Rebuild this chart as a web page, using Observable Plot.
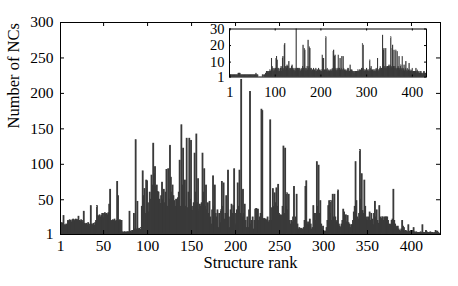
<!DOCTYPE html>
<html>
<head>
<meta charset="utf-8">
<script src="https://cdn.jsdelivr.net/npm/d3@7"></script>
<script src="https://cdn.jsdelivr.net/npm/@observablehq/plot@0.6"></script>
<style>
  html, body { margin: 0; padding: 0; background: #fff; }
  #chart { position: relative; width: 458px; height: 286px; overflow: hidden; }
  #inset { position: absolute; left: 200px; top: 20px; }
  svg { overflow: visible; }
</style>
</head>
<body>
<div id="chart"><div id="main"></div><div id="inset"></div></div>
<script>
// Number of NCs per structure (main panel), structure rank 1..432
const mainCounts = [
  18,15,17,16,27,14,13,15,14,20,
  19,21,20,18,21,22,20,21,22,21,
  21,26,20,19,21,20,17,33,16,15,
  16,14,17,15,12,41,15,14,16,13,
  17,20,41,27,26,28,25,27,30,24,
  30,31,29,30,28,31,43,64,20,19,
  21,20,22,19,20,75,55,20,21,20,
  20,4,3,4,4,3,4,4,4,33,
  5,4,6,5,30,8,134,8,47,8,
  9,7,10,40,90,55,65,30,77,76,
  45,32,60,50,84,70,129,86,96,68,
  70,61,60,50,44,55,74,50,64,45,
  60,92,40,93,50,126,81,60,70,55,
  48,40,50,45,52,60,105,40,155,70,
  122,50,77,40,136,38,60,136,50,133,
  40,34,45,115,60,142,45,79,35,43,
  40,45,115,60,93,40,70,35,45,30,
  47,25,15,35,83,40,70,30,25,35,
  10,30,17,35,75,40,73,22,30,55,
  30,91,25,10,35,43,30,41,93,30,
  15,35,73,40,91,30,219,25,64,30,
  43,20,10,25,10,35,202,15,20,25,
  8,20,36,37,36,36,20,25,30,177,
  175,22,23,22,22,20,25,18,20,162,
  20,38,65,40,59,45,66,40,71,30,
  27,28,27,40,125,30,122,40,59,35,
  57,20,15,20,18,25,68,20,25,57,
  15,8,10,8,9,8,8,10,20,68,
  76,15,18,15,22,15,8,10,41,30,
  30,20,103,40,98,30,48,15,8,12,
  5,5,5,10,20,41,48,30,48,20,
  57,25,57,25,18,20,63,15,12,10,
  15,20,36,32,15,28,18,27,17,15,
  10,14,14,20,32,40,103,48,25,22,
  30,120,50,86,34,30,77,40,22,25,
  20,25,32,20,30,22,14,30,47,25,
  35,20,16,41,25,22,25,25,20,25,
  25,25,25,20,14,15,14,20,22,64,
  20,15,12,10,12,8,6,5,8,20,
  12,10,5,6,5,4,14,5,4,6,
  5,6,10,4,3,4,3,3,3,3,
  4,3,14,3,3,3,6,4,3,3,
  3,4,3,3,3,2,3,6,4,5,
  3,2
];

// Inset series, same structure ranks
const insetCounts = [
  2,2,2,2,2,2,2,2,2,2,
  2,2,2,2,2,2,2,2,2,3,
  3,3,3,3,2,2,2,2,2,2,
  2,2,2,2,2,2,2,2,2,2,
  2,2,2,2,2,2,2,2,2,2,
  2,2,2,2,2,2,2,2,3,2,
  2,2,2,1,1,1,1,1,1,1,
  1,1,2,2,2,1,2,2,2,3,
  3,4,3,4,4,3,4,4,5,4,
  4,5,12,6,7,5,6,4,5,6,
  4,6,12,13,5,11,6,4,6,4,
  5,4,6,7,4,6,12,13,5,6,
  20,21,5,7,7,6,8,7,7,5,
  10,6,5,6,6,5,7,8,6,5,
  5,6,5,4,6,5,30,6,5,6,
  6,5,6,6,5,4,5,6,5,5,
  7,20,6,5,18,17,6,5,6,5,
  7,5,23,6,7,19,18,5,6,6,
  5,4,5,5,6,4,5,5,4,6,
  4,5,4,5,5,6,4,5,4,5,
  4,4,5,14,12,6,12,4,5,5,
  5,25,5,5,6,4,5,4,5,4,
  4,5,5,4,5,6,5,16,17,6,
  13,14,5,6,5,4,5,6,14,6,
  5,6,12,5,5,6,13,5,5,13,
  6,4,5,5,4,5,4,4,5,6,
  6,5,4,4,8,5,4,5,5,4,
  4,3,4,4,3,4,4,3,4,4,
  4,5,4,4,5,5,4,5,4,6,
  5,21,6,20,5,4,5,5,4,5,
  6,5,4,5,4,5,4,11,6,5,
  7,5,4,5,5,4,5,4,5,4,
  5,6,5,5,12,5,4,5,5,6,
  7,6,5,6,5,26,6,17,18,6,
  7,6,18,6,7,5,7,6,7,8,
  6,7,8,25,6,7,18,20,6,7,
  17,6,7,6,17,5,6,16,6,7,
  6,13,5,6,7,8,5,6,13,5,
  6,5,8,4,5,6,10,5,4,6,
  5,4,5,9,4,5,4,4,5,4,
  6,4,3,4,3,4,3,4,6,3,
  4,5,4,3,4,3,3,4,3,4,
  3,3,2,3,3,4,4,3,3,3,
  2,2
];

const mainXTicks = [1, 50, 100, 150, 200, 250, 300, 350, 400];
const mainYTicks = [1, 50, 100, 150, 200, 250, 300];
const insetXTicks = [1, 100, 200, 300, 400];
const insetYTicks = [1, 10, 20, 30];
const xTitle = "Structure rank";
const yTitle = "Number of NCs";

const mainData = mainCounts.map((v, i) => ({rank: i + 1, v}));
const insetData = insetCounts.map((v, i) => ({rank: i + 1, v}));

const barFill = "#3a3a3a";
const font = "'Liberation Serif', 'Times New Roman', serif";

// Main panel
const W = 458, H = 286;
const mL = 60, mR = 18, mT = 22, mB = 52;
const pw = W - mL - mR, ph = H - mT - mB;
const tk = 4;

const main = Plot.plot({
  width: W, height: H,
  marginLeft: mL, marginRight: mR, marginTop: mT, marginBottom: mB,
  style: {fontFamily: font, fontSize: "15.5px", color: "#000", background: "transparent"},
  x: {domain: [1, 433]},
  y: {domain: [1, 300]},
  marks: [
    Plot.rectY(mainData, {x1: d => d.rank - 0.5, x2: d => d.rank + 0.5, y1: 1, y2: "v", fill: barFill, stroke: barFill, strokeWidth: 0.9, clip: true}),
    Plot.frame({stroke: "#000", strokeWidth: 1}),
    Plot.tickX(mainXTicks, {x: d => d, insetTop: ph - tk, stroke: "#000"}),
    Plot.tickX(mainXTicks, {x: d => d, insetBottom: ph - tk, stroke: "#000"}),
    Plot.tickY(mainYTicks, {y: d => d, insetRight: pw - tk, stroke: "#000"}),
    Plot.tickY(mainYTicks, {y: d => d, insetLeft: pw - tk, stroke: "#000"}),
    Plot.axisX(mainXTicks, {anchor: "bottom", tickSize: 0, tickPadding: 5.5, label: null, tickFormat: d => String(d)}),
    Plot.axisY(mainYTicks, {anchor: "left", tickSize: 0, tickPadding: 7, label: null, tickFormat: d => String(d)}),
    Plot.text([xTitle], {text: d => d, frameAnchor: "bottom", dy: 33, fontSize: 16.5}),
    Plot.text([yTitle], {text: d => d, frameAnchor: "left", dx: -47, rotate: -90, fontSize: 16.5})
  ]
});
document.getElementById("main").appendChild(main);

// Inset panel
const iW = 240, iH = 88;
const iL = 29, iR = 14, iT = 8.5, iB = 31.5;
const ipw = iW - iL - iR, iph = iH - iT - iB;
const itk = 2;

const inset = Plot.plot({
  width: iW, height: iH,
  marginLeft: iL, marginRight: iR, marginTop: iT, marginBottom: iB,
  style: {fontFamily: font, fontSize: "14.5px", color: "#000", background: "transparent"},
  x: {domain: [0, 431]},
  y: {domain: [1, 30]},
  marks: [
    Plot.frame({fill: "#fff"}),
    Plot.rectY(insetData, {x1: d => d.rank - 0.5, x2: d => d.rank + 0.5, y1: 1, y2: "v", fill: barFill, stroke: barFill, strokeWidth: 0.6, clip: true}),
    Plot.frame({stroke: "#000", strokeWidth: 1}),
    Plot.tickX(insetXTicks, {x: d => d, insetTop: iph - itk, stroke: "#000"}),
    Plot.tickX(insetXTicks, {x: d => d, insetBottom: iph - itk, stroke: "#000"}),
    Plot.tickY(insetYTicks, {y: d => d, insetRight: ipw - itk, stroke: "#000"}),
    Plot.tickY(insetYTicks, {y: d => d, insetLeft: ipw - itk, stroke: "#000"}),
    Plot.axisX(insetXTicks, {anchor: "bottom", tickSize: 0, tickPadding: 10, label: null, tickFormat: d => String(d)}),
    Plot.axisY(insetYTicks, {anchor: "left", tickSize: 0, tickPadding: 5, label: null, tickFormat: d => String(d)})
  ]
});
document.getElementById("inset").appendChild(inset);
</script>
</body>
</html>
